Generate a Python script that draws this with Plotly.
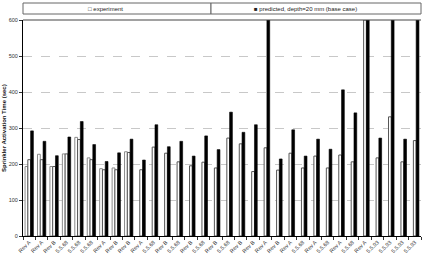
import plotly.graph_objects as go

labels = ["Rev A", "Rev A", "Rev B", "5.5.68", "5.5.68", "5.5.68", "Rev A", "Rev B",
          "Rev B", "Rev A", "5.5.68", "Rev B", "5.5.68", "Rev B", "5.5.68", "Rev B",
          "5.5.68", "Rev B", "Rev B", "Rev A", "Rev B", "Rev A", "5.5.68", "Rev A",
          "5.5.68", "Rev A", "5.5.68", "Rev A", "5.5.93", "5.5.93", "5.5.93", "5.5.93"]

experiment_a = [193, 227, 193, 228, 274, 217, 187, 189, 234] + [None] * 23
experiment_b = [212, 212, 193, 228, 268, 212, 184, 184, 232,
                184, 247, 230, 206, 195, 205, 189, 272, 256, 179, 245, 183, 230,
                189, 222, 189, 225, 206, 600, 217, 331, 206, 265]
predicted = [292, 263, 223, 275, 318, 254, 207, 231, 269, 211, 309, 248, 263, 222, 278, 240,
             344, 288, 309, 600, 214, 295, 222, 269, 241, 406, 342, 600, 272, 600, 269, 600]

y_ticks = [0, 100, 200, 300, 400, 500, 600]

x = list(range(len(labels)))

W, H = 423, 258
ML, MR, MT, MB = 23, 2, 20, 22
PW, PH = W - ML - MR, H - MT - MB

def px_x(p):
    return (p - ML) / PW

def px_y(p):
    return (H - MB - p) / PH

fig = go.Figure()
fig.add_trace(go.Bar(x=x, y=experiment_a, name="experiment", offsetgroup="a",
                     marker=dict(color="white", line=dict(color="#8a8a8a", width=1)),
                     showlegend=False))
fig.add_trace(go.Bar(x=x, y=experiment_b, name="experiment", offsetgroup="b",
                     marker=dict(color="white", line=dict(color="#555555", width=1)),
                     showlegend=False))
fig.add_trace(go.Bar(x=x, y=predicted, name="predicted, depth=20 mm (base case)", offsetgroup="c",
                     marker=dict(color="black", line=dict(color="black", width=0.6)),
                     showlegend=False))

fig.update_layout(
    width=W, height=H,
    margin=dict(l=ML, r=MR, t=MT, b=MB, pad=0),
    paper_bgcolor="white", plot_bgcolor="white",
    barmode="group", bargap=0.33, bargroupgap=0,
    font=dict(family="Liberation Sans, Arial, sans-serif", size=6, color="#222222"),
    showlegend=False,
)
fig.update_xaxes(
    range=[-0.5, len(labels) - 0.5],
    tickmode="array", tickvals=x, ticktext=labels, tickangle=-45,
    tickfont=dict(size=5.5, color="#333333"),
    ticks="", showgrid=False, zeroline=False,
    showline=True, linecolor="black", linewidth=1,
    minor=dict(tick0=-0.5, dtick=1, ticks="outside", ticklen=3, tickcolor="#333333",
               showgrid=False),
)
fig.update_yaxes(
    range=[0, 600], tickmode="array", tickvals=y_ticks,
    tickfont=dict(size=5.5, color="#333333"),
    ticks="outside", ticklen=3, tickcolor="#333333",
    showgrid=True, gridcolor="#c8c8c8", gridwidth=1, griddash="dash",
    zeroline=False, showline=True, linecolor="black", linewidth=1,
)

# top border of plot area
fig.add_shape(type="line", xref="paper", yref="paper", x0=0, x1=1, y0=1, y1=1,
              line=dict(color="#444444", width=1))

# legend boxes
split = px_x(211)
for x0, x1 in [(0, split), (split, 1)]:
    fig.add_shape(type="rect", xref="paper", yref="paper", x0=x0, x1=x1,
                  y0=px_y(14), y1=px_y(3), line=dict(color="#666666", width=1),
                  fillcolor="white")
fig.add_annotation(xref="paper", yref="paper", x=px_x(105), y=px_y(8.7),
                   text="□ experiment", showarrow=False, xanchor="center", yanchor="middle",
                   font=dict(size=6, color="#222222"))
fig.add_annotation(xref="paper", yref="paper", x=px_x(305), y=px_y(8.7),
                   text="■ predicted, depth=20 mm (base case)", showarrow=False,
                   xanchor="center", yanchor="middle", font=dict(size=6, color="#222222"))

# y-axis title
fig.add_annotation(xref="paper", yref="paper", x=px_x(4), y=0.5,
                   text="<b>Sprinkler Activation Time (sec)</b>", showarrow=False,
                   textangle=-90, xanchor="center", yanchor="middle",
                   font=dict(size=6, color="#111111"))

fig.write_html("out.html")
